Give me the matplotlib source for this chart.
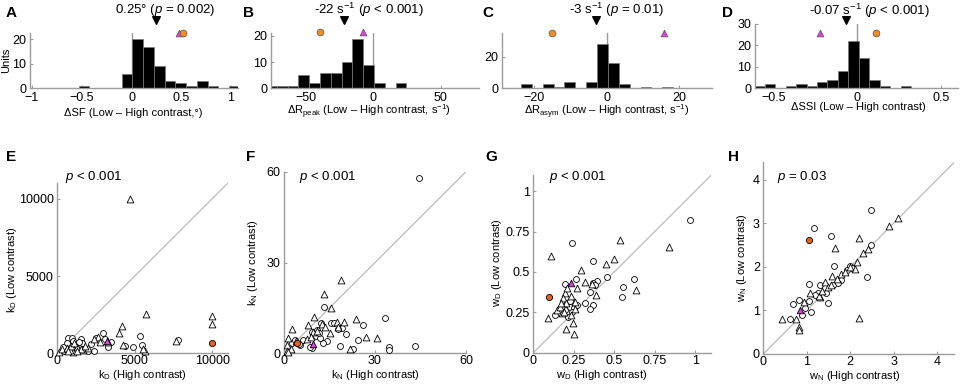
import matplotlib
matplotlib.use("Agg")
import matplotlib.pyplot as plt
import matplotlib.ticker as ticker
import matplotlib.transforms as mtrans

plt.rcParams['font.family'] = ['Liberation Sans', 'DejaVu Sans']
plt.rcParams['mathtext.fontset'] = 'custom'
plt.rcParams['mathtext.rm'] = 'Liberation Sans'
plt.rcParams['mathtext.it'] = 'Liberation Sans:italic'
plt.rcParams['mathtext.bf'] = 'Liberation Sans:bold'
plt.rcParams['mathtext.default'] = 'regular'

# ---- histogram data (top row) ----
sf_bin0, sf_binw = -0.532, 0.108
sf_counts = [1, 0, 0, 0, 6, 20, 17, 9, 3, 2, 1, 3, 1, 0, 1]
sf_mean = 0.25
sf_example = [0.48, 0.52]          # magenta, orange

rpk_bin0, rpk_binw = -79.5, 8
rpk_counts = [1, 1, 1, 5, 2, 6, 6, 10, 19, 9, 2, 0, 2]
rpk_mean = -22
rpk_example = [-8, -39.5]

ras_bin0, ras_binw = -23.7, 3
ras_counts = [3, 0, 3, 1, 4, 0, 4, 28, 16, 3, 0, 1, 0, 1]
ras_mean = -3
ras_example = [15.7, -15.1]

ssi_bin0, ssi_binw = -0.617, 0.0625
ssi_counts = [1, 2, 0, 1, 2, 1, 3, 4, 8, 22, 14, 4, 1, 0, 1]
ssi_mean = -0.07
ssi_example = [-0.225, 0.113]

# ---- scatter data (bottom row): (high contrast, low contrast) ----
kD_circ = [(5340, 1120), (7770, 860), (2970, 1300), (3290, 430), (4900, 430), (5450, 540),
           (3460, 750), (2390, 170), (670, 970), (970, 970), (1530, 910), (1570, 650),
           (1190, 600), (1960, 170), (820, 540), (460, 170), (1310, 240), (1000, 800),
           (1400, 750), (2500, 1000), (3100, 900), (1700, 300), (600, 650), (1200, 350),
           (2200, 600), (1100, 200), (350, 400), (4350, 500)]
kD_tri = [(4700, 10000), (5700, 2550), (10000, 2420), (10000, 1900), (4190, 1790), (4000, 1300),
          (7660, 800), (4220, 520), (5660, 150), (5550, 280), (2630, 1080), (2750, 750),
          (110, 100), (320, 260), (1030, 60), (1680, 210), (600, 350), (850, 200),
          (1300, 400), (1500, 300), (2000, 350), (900, 480), (1100, 650), (700, 150),
          (1800, 500), (2400, 900), (1250, 120), (3300, 750)]
kD_orange = (10000, 650)
kD_magenta = (3190, 800)

kN_circ = [(44.4, 57.9), (13.3, 15.4), (33.3, 11.6), (26.2, 9.4), (34.7, 2.2), (34.7, 1.1),
           (43.2, 2.4), (22.9, 1.3), (18.5, 2.4), (24.5, 4.4), (20.4, 6.4), (15.4, 10.1),
           (16.5, 10.1), (19.0, 8.3), (17.9, 8.0), (14.3, 4.2), (13.0, 3.3), (9.1, 1.7),
           (2.5, 3.3), (5.3, 2.8), (6.4, 4.4), (10.5, 5.7), (11.9, 5.0), (12.3, 9.9),
           (8.5, 2.0), (3.5, 4.5), (5.0, 3.2), (10.8, 7.8), (11.5, 6.8), (9.3, 7.1)]
kN_tri = [(18.7, 24.1), (13.2, 19.6), (15.5, 14.9), (10.0, 11.9), (23.7, 11.2), (19.9, 10.4),
          (30.5, 5.0), (27.0, 5.3), (21.8, 1.4), (2.5, 7.9), (8.0, 9.4), (12.6, 9.6),
          (17.4, 10.5), (17.9, 8.8), (15.0, 6.6), (0.9, 2.8), (0.9, 0.6), (9.7, 7.2),
          (1.4, 5.0), (11.0, 7.4), (7.5, 4.6), (13.5, 8.6), (9.0, 5.5), (2.2, 1.5),
          (3.8, 4.0), (1.3, 0.4)]
kN_orange = (4.2, 3.5)
kN_magenta = (9.7, 3.1)

wD_circ = [(0.970, 0.820), (0.241, 0.676), (0.367, 0.568), (0.453, 0.470), (0.622, 0.459),
           (0.552, 0.404), (0.546, 0.342), (0.395, 0.445), (0.371, 0.433), (0.262, 0.459),
           (0.196, 0.428), (0.350, 0.377), (0.319, 0.305), (0.371, 0.295), (0.350, 0.270),
           (0.132, 0.233), (0.206, 0.305), (0.196, 0.264), (0.227, 0.284), (0.216, 0.222),
           (0.253, 0.274), (0.268, 0.295), (0.237, 0.253), (0.380, 0.420), (0.225, 0.320),
           (0.180, 0.290)]
wD_tri = [(0.838, 0.655), (0.536, 0.700), (0.107, 0.597), (0.498, 0.577), (0.449, 0.552),
          (0.292, 0.515), (0.634, 0.387), (0.360, 0.424), (0.319, 0.439), (0.272, 0.398),
          (0.387, 0.356), (0.089, 0.216), (0.202, 0.144), (0.251, 0.115), (0.243, 0.181),
          (0.196, 0.371), (0.210, 0.398), (0.185, 0.336), (0.257, 0.315), (0.144, 0.264),
          (0.175, 0.247), (0.231, 0.233), (0.165, 0.284), (0.202, 0.305), (0.190, 0.250),
          (0.260, 0.270), (0.230, 0.350), (0.170, 0.310)]
wD_orange = (0.097, 0.346)
wD_magenta = (0.231, 0.433)

wN_circ = [(2.49, 3.30), (1.16, 2.90), (1.56, 2.70), (2.49, 2.51), (1.63, 2.01), (1.99, 2.01),
           (2.40, 1.76), (1.92, 1.92), (1.79, 1.69), (1.06, 1.60), (1.30, 1.59), (1.61, 1.59),
           (1.26, 1.41), (1.49, 1.16), (1.06, 1.22), (0.83, 1.24), (0.69, 1.15), (1.11, 0.97),
           (0.90, 0.90), (0.61, 0.80), (1.44, 1.41), (1.72, 1.62), (2.05, 1.98), (1.20, 1.35),
           (0.95, 1.05)]
wN_tri = [(3.10, 3.12), (2.90, 2.93), (2.21, 2.66), (1.65, 2.43), (2.41, 2.41), (2.30, 2.31),
          (2.11, 1.95), (1.59, 1.80), (1.78, 1.84), (1.88, 1.89), (1.42, 1.66), (1.49, 1.53),
          (1.07, 1.39), (1.30, 1.30), (0.93, 1.20), (0.42, 0.80), (0.75, 0.80), (2.21, 0.82),
          (0.83, 0.61), (0.83, 0.55), (1.70, 1.72), (2.15, 2.12), (1.28, 1.32), (1.55, 1.58),
          (2.00, 2.00), (1.35, 1.45)]
wN_orange = (1.05, 2.61)
wN_magenta = (0.84, 1.01)

W, H = 964, 384
fig = plt.figure(figsize=(W / 100, H / 100), dpi=100)

GRAY = '#9c9c9c'
ORANGE_TOP = '#f28c1e'
ORANGE_BOT = '#e8601a'
MAGENTA = '#e23ee2'


def px_axes(l, t, r, b):
    return fig.add_axes([l / W, 1 - b / H, (r - l) / W, (b - t) / H])


def ftext(x, y, s, **kw):
    fig.text(x / W, 1 - y / H, s, **kw)


fmt = ticker.FuncFormatter(lambda v, p: ('%g' % v).replace('-', '\u2212'))


def style(ax):
    for s in ['top', 'right']:
        ax.spines[s].set_visible(False)
    for s in ['left', 'bottom']:
        ax.spines[s].set_color(GRAY)
        ax.spines[s].set_linewidth(1)
    ax.tick_params(direction='in', length=2, width=0.8, color=GRAY,
                   labelsize=9, pad=2.5)
    ax.xaxis.set_major_formatter(fmt)
    ax.yaxis.set_major_formatter(fmt)


def hist_panel(box, bin0, binw, counts, xlim, ylim, xticks, yticks, mean, example, ex_y):
    ax = px_axes(*box)
    style(ax)
    lefts = [bin0 + i * binw for i in range(len(counts))]
    ax.bar(lefts, counts, width=binw, align='edge', color='black',
           edgecolor='#777777', linewidth=0.5, zorder=2)
    ax.plot([0, 0], [0, ylim[1]], color=GRAY, lw=1, zorder=1)
    ax.set_xlim(*xlim)
    ax.set_ylim(*ylim)
    ax.set_xticks(xticks)
    ax.set_yticks(yticks)
    ax.scatter([example[0]], [ex_y], marker='^', s=24, color=MAGENTA,
               edgecolor='#555555', linewidth=0.5, clip_on=False, zorder=5)
    ax.scatter([example[1]], [ex_y], marker='o', s=24, color=ORANGE_TOP,
               edgecolor='#555555', linewidth=0.5, clip_on=False, zorder=5)
    trans = mtrans.blended_transform_factory(ax.transData, fig.transFigure)
    ax.scatter([mean], [1 - 20 / H], marker='v', s=30, color='black',
               transform=trans, clip_on=False, zorder=5)
    return ax


# ---- top row ----
hist_panel((30, 33.3, 238, 88.3), sf_bin0, sf_binw, sf_counts, (-1.02, 1.07), (0, 22.5),
           [-1, -0.5, 0, 0.5, 1], [0, 10, 20], sf_mean, sf_example, 22.5)
hist_panel((270.7, 33.3, 478.7, 88.3), rpk_bin0, rpk_binw, rpk_counts, (-76, 78), (0, 21),
           [-50, 0, 50], [0, 10, 20], rpk_mean, rpk_example, 21.4)
hist_panel((501.7, 33.3, 712, 88.3), ras_bin0, ras_binw, ras_counts, (-29, 29), (0, 35),
           [-20, 0, 20], [0, 20], ras_mean, ras_example, 35)
hist_panel((754.7, 24, 957.7, 88.3), ssi_bin0, ssi_binw, ssi_counts, (-0.615, 0.6), (0, 30),
           [-0.5, 0, 0.5], [0, 10, 20, 30], ssi_mean, ssi_example, 26)

tfs = 9.5
ftext(165, 10, '0.25\u00b0 ($\\mathit{p}$ = 0.002)', ha='center', va='center', fontsize=tfs)
ftext(369, 10, '-22 s$^{-1}$ ($\\mathit{p}$ < 0.001)', ha='center', va='center', fontsize=tfs)
ftext(617, 10, '-3 s$^{-1}$ ($\\mathit{p}$ = 0.01)', ha='center', va='center', fontsize=tfs)
ftext(869, 11, '-0.07 s$^{-1}$ ($\\mathit{p}$ < 0.001)', ha='center', va='center', fontsize=tfs)

lfs = 8
ftext(133, 113, '\u0394SF (Low \u2013 High contrast,\u00b0)', ha='center', va='center', fontsize=lfs)
ftext(369, 112, '\u0394R$_{peak}$ (Low \u2013 High contrast, s$^{-1}$)', ha='center', va='center', fontsize=lfs)
ftext(607, 112, '\u0394R$_{asym}$ (Low \u2013 High contrast, s$^{-1}$)', ha='center', va='center', fontsize=lfs)
ftext(858, 107, '\u0394SSI (Low \u2013 High contrast)', ha='center', va='center', fontsize=lfs)
ftext(6, 60, 'Units', ha='center', va='center', rotation=90, fontsize=lfs)


# ---- bottom row ----
def scatter_panel(box, circ, tri, orange, magenta, lim, ticks, ptxt, ptxt_x, xlab, ylab, xl_pos, yl_pos):
    ax = px_axes(*box)
    style(ax)
    ax.tick_params(axis='x', pad=1.5)
    ax.plot([0, lim], [0, lim], color='#b4b4b4', lw=0.8, zorder=1)
    ax.scatter([p[0] for p in circ], [p[1] for p in circ], marker='o', s=18,
               facecolor='white', edgecolor='black', linewidth=0.6, zorder=3, clip_on=False)
    ax.scatter([p[0] for p in tri], [p[1] for p in tri], marker='^', s=24,
               facecolor='white', edgecolor='black', linewidth=0.6, zorder=3, clip_on=False)
    ax.scatter([orange[0]], [orange[1]], marker='o', s=20, facecolor=ORANGE_BOT,
               edgecolor='black', linewidth=0.6, zorder=4, clip_on=False)
    ax.scatter([magenta[0]], [magenta[1]], marker='^', s=22, facecolor=MAGENTA,
               edgecolor='black', linewidth=0.6, zorder=4, clip_on=False)
    ax.set_xlim(0, lim)
    ax.set_ylim(0, lim)
    ax.set_xticks(ticks)
    ax.set_yticks(ticks)
    ftext(ptxt_x, 177, ptxt, ha='left', va='center', fontsize=tfs)
    ftext(xl_pos[0], xl_pos[1], xlab, ha='center', va='center', fontsize=lfs)
    ftext(yl_pos[0], yl_pos[1], ylab, ha='center', va='center', rotation=90, fontsize=lfs)
    return ax


scatter_panel((57.3, 183.3, 227.7, 353.3), kD_circ, kD_tri, kD_orange, kD_magenta, 11000,
              [0, 5000, 10000], '$\\mathit{p}$ < 0.001', 65,
              'k$_{D}$ (High contrast)', 'k$_{D}$ (Low contrast)', (142, 375), (12, 270))
scatter_panel((284, 171.7, 466, 353.3), kN_circ, kN_tri, kN_orange, kN_magenta, 60,
              [0, 30, 60], '$\\mathit{p}$ < 0.001', 299,
              'k$_{N}$ (High contrast)', 'k$_{N}$ (Low contrast)', (375, 375), (253, 263))
scatter_panel((533.3, 175, 711.3, 352.7), wD_circ, wD_tri, wD_orange, wD_magenta, 1.1,
              [0, 0.25, 0.5, 0.75, 1], '$\\mathit{p}$ < 0.001', 549,
              'w$_{D}$ (High contrast)', 'w$_{D}$ (Low contrast)', (602, 375), (497, 263))
scatter_panel((763.3, 162.3, 954.3, 354), wN_circ, wN_tri, wN_orange, wN_magenta, 4.4,
              [0, 1, 2, 3, 4], '$\\mathit{p}$ = 0.03', 777,
              'w$_{N}$ (High contrast)', 'w$_{N}$ (Low contrast)', (855, 376), (742, 258))

# panel letters
for letter, x, y in [('A', 6, 13), ('B', 243, 13), ('C', 482, 13), ('D', 722, 13),
                     ('E', 6, 157), ('F', 246, 157), ('G', 485, 157), ('H', 728, 157)]:
    ftext(x, y, letter, ha='left', va='center', fontsize=11, fontweight='bold')

fig.savefig('out.png', dpi=100)
